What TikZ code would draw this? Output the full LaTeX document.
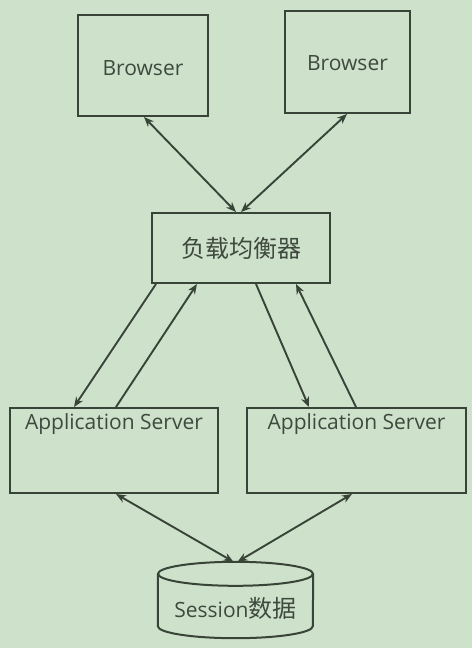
\documentclass[tikz,border=0pt]{standalone}
\usepackage{fontspec}
\setmainfont{Open Sans}
\newfontfamily\cjk{Noto Sans CJK SC}
\usetikzlibrary{arrows.meta,calc}
\definecolor{bgc}{RGB}{206,225,203}
\definecolor{linec}{RGB}{55,68,55}
\definecolor{txtc}{RGB}{62,74,62}
\tikzset{
  box/.style={draw=linec, line width=2pt, inner sep=0pt, text=txtc, font=\fontsize{21}{24}\selectfont},
  lbl/.style={text=txtc, font=\fontsize{21}{24}\selectfont},
  conn/.style={draw=linec, line width=1.9pt, {Stealth[length=10pt,width=8pt]}-{Stealth[length=10pt,width=8pt]}},
  oneway/.style={draw=linec, line width=1.9pt, -{Stealth[length=10pt,width=8pt]}},
  ch/.style={font=\cjk\fontsize{24}{28}\selectfont}
}
\begin{document}
\begin{tikzpicture}[x=1pt,y=-1pt]
\fill[bgc] (0,0) rectangle (472,648);
\useasboundingbox (0,0) rectangle (472,648);
% nodes
\node[box, minimum width=130pt, minimum height=101pt] (b1) at (143,65.5) {};
\node[lbl] (b1t) at (143,68) {Browser};
\node[box, minimum width=125pt, minimum height=102pt] (b2) at (347.5,62) {};
\node[lbl] (b2t) at (347.5,63) {Browser};
\node[box, minimum width=178pt, minimum height=70pt, ch] (lb) at (241,248) {负载均衡器};
\node[box, minimum width=208pt, minimum height=85pt] (a1) at (114,450.5) {};
\node[box, minimum width=219pt, minimum height=85pt] (a2) at (356.5,450.5) {};
\node[lbl] (a1t) at (114,424) {Application Server};
\node[lbl] (a2t) at (356.5,424) {Application Server};
\node[minimum width=155pt, minimum height=76pt, inner sep=0pt] (db) at (235.5,600) {};
\draw[linec, line width=2pt]
  ($(db.north west)+(0,12)$) -- ($(db.south west)+(0,-12)$)
  arc[start angle=180, end angle=0, x radius=77.5, y radius=12]
  -- ($(db.north east)+(0,12)$);
\draw[linec, line width=2pt] ($(db.north)+(0,12)$) ellipse[x radius=77.5, y radius=12];
\node[lbl] (dbt) at (235.5,608) {Session{\cjk\fontsize{24}{28}\selectfont 数据}};
% connectors
\draw[conn] ($(b1.south west)+(67,0)$) -- ($(lb.north west)+(85,0)$);
\draw[conn] ($(b2.south west)+(63,0)$) -- ($(lb.north west)+(90,0)$);
\draw[oneway] ($(lb.south west)+(5,0)$) -- ($(a1.north west)+(65,0)$);
\draw[oneway] ($(a1.north west)+(107,0)$) -- ($(lb.south west)+(46,0)$);
\draw[oneway] ($(lb.south west)+(105,0)$) -- ($(a2.north west)+(63,0)$);
\draw[oneway] ($(a2.north west)+(110,0)$) -- ($(lb.south west)+(145,0)$);
\draw[conn] ($(a1.south west)+(107,0)$) -- ($(db.north)+(-2,0)$);
\draw[conn] ($(a2.south west)+(106,0)$) -- ($(db.north)+(2,0)$);
\end{tikzpicture}
\end{document}
